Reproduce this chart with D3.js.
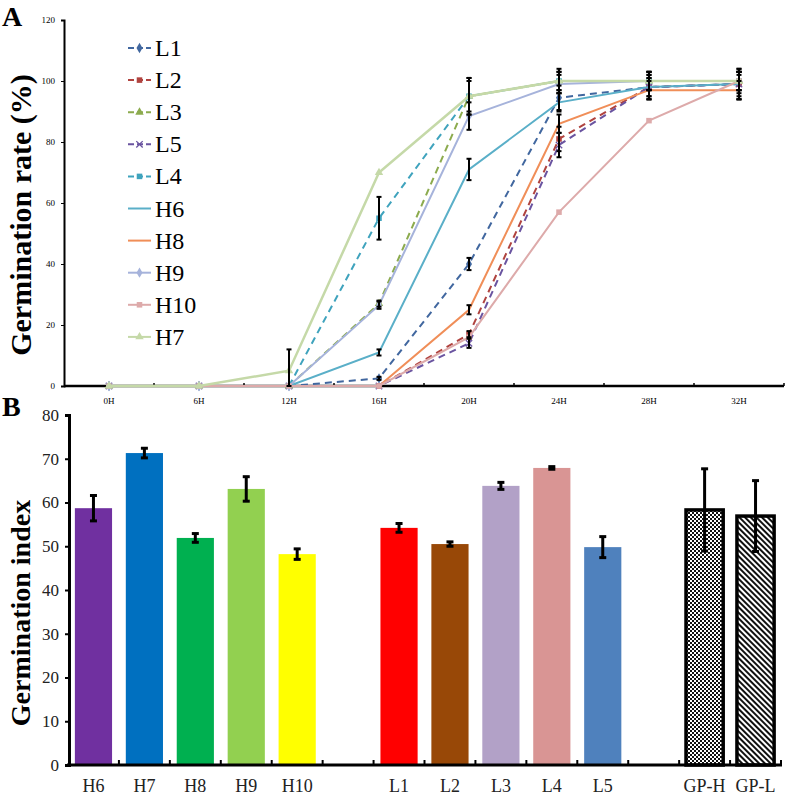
<!DOCTYPE html>
<html>
<head>
<meta charset="utf-8">
<script src="https://cdn.jsdelivr.net/npm/d3@7/dist/d3.min.js"></script>
<style>
  body { margin: 0; background: #fff; }
  svg { display: block; }
  svg text { font-family: "Liberation Serif", "Times New Roman", serif; }
</style>
</head>
<body>
<svg id="chart" width="787" height="796"></svg>
<script>
// ---- panel A data: germination rate (%) over time ----
const hours = ["0H", "6H", "12H", "16H", "20H", "24H", "28H", "32H"];
const rateNames = ["L1", "L2", "L3", "L5", "L4", "H6", "H8", "H9", "H10", "H7"];
const rateColors = ["#41679F", "#B0433F", "#8CAB4E", "#6A54A0", "#3FA3BD", "#5AAFC8", "#F08E58", "#A6B3DB", "#DDAAAA", "#C5D9A8"];
const rateDashed = [true, true, true, true, true, false, false, false, false, false];
const rateMarkers = ["diamond", "square", "triangle", "cross", "square", "none", "none", "diamond", "square", "triangle"];
const rateValues = [
  [0, 0, 0, 2.5, 40, 94.5, 98, 99],
  [0, 0, 0, 0, 17, 81, 98, 99],
  [0, 0, 0, 27, 95, 100, 100, 100],
  [0, 0, 0, 0, 14, 79, 98, 99],
  [0, 0, 0, 55, 95, 100, 100, 100],
  [0, 0, 0, 11, 71, 93, 98, 99],
  [0, 0, 0, 0, 25, 86, 97, 97],
  [0, 0, 0, 26.5, 88.5, 99, 100, 100],
  [0, 0, 0, 0, 16, 57, 87, 100],
  [0, 0, 5, 70, 95, 100, 100, 100]
];
const rateErrors = [
  [0, 0, 0, 0.5, 2, 4, 4, 5],
  [0, 0, 0, 0, 1, 4, 3, 4],
  [0, 0, 0, 1, 6, 3, 3, 3],
  [0, 0, 0, 0, 1.5, 4, 4, 5],
  [0, 0, 0, 7, 6, 4, 3, 3],
  [0, 0, 0, 1, 3.5, 3, 3, 3],
  [0, 0, 0, 0, 1.5, 3, 3, 3],
  [0, 0, 0, 1.2, 4.5, 3, 3, 3],
  [0, 0, 0, 0, 0, 0, 0, 0],
  [0, 0, 7, 0, 5, 3, 3, 3]
];
const rateTicks = [0, 20, 40, 60, 80, 100, 120];

// ---- panel B data: germination index ----
const groups = ["H6", "H7", "H8", "H9", "H10", "", "L1", "L2", "L3", "L4", "L5", " ", "GP-H", "GP-L"];
const indexValues = [58.7, 71.3, 51.9, 63.1, 48.2, null, 54.2, 50.5, 63.8, 67.9, 49.8, null, 58.3, 56.9];
const indexErrors = [2.9, 1.1, 1.0, 2.8, 1.2, null, 1.0, 0.5, 0.8, 0.3, 2.4, null, 9.4, 8.1];
const indexColors = ["#7030A0", "#0070C0", "#00B050", "#92D050", "#FFFF00", null, "#FF0000", "#984807", "#B2A1C7", "#D99594", "#4F81BD", null, "url(#checker)", "url(#hatch)"];
const indexTicks = [0, 10, 20, 30, 40, 50, 60, 70, 80];

const svg = d3.select("#chart");

// patterns for the pooled bars
const defs = svg.append("defs");
const checker = defs.append("pattern").attr("id", "checker")
  .attr("width", 4).attr("height", 4).attr("patternUnits", "userSpaceOnUse");
checker.append("rect").attr("width", 4).attr("height", 4).attr("fill", "#fff");
checker.append("rect").attr("width", 2).attr("height", 2).attr("fill", "#111");
checker.append("rect").attr("x", 2).attr("y", 2).attr("width", 2).attr("height", 2).attr("fill", "#111");
const hatch = defs.append("pattern").attr("id", "hatch")
  .attr("width", 4).attr("height", 4).attr("patternUnits", "userSpaceOnUse")
  .attr("patternTransform", "rotate(-45)");
hatch.append("rect").attr("width", 4).attr("height", 4).attr("fill", "#fff");
hatch.append("rect").attr("width", 2).attr("height", 4).attr("fill", "#111");

/////////////////////////////// panel A ///////////////////////////////
const xA = d3.scaleBand().domain(hours).range([64, 784]);
const yA = d3.scaleLinear().domain([0, 120]).range([386, 20]);

svg.append("text").attr("x", 2).attr("y", 26)
  .style("font-size", "28px").style("font-weight", "bold").text("A");

svg.append("text")
  .attr("transform", "translate(31,215) rotate(-90)")
  .attr("text-anchor", "middle")
  .style("font-size", "30px").style("font-weight", "bold")
  .text("Germination rate (%)");

const yAxisA = svg.append("g").attr("transform", "translate(64,0)")
  .call(d3.axisLeft(yA).tickValues(rateTicks).tickSize(3).tickPadding(6));
yAxisA.select(".domain").attr("stroke-width", 2);
yAxisA.selectAll("text").style("font-size", "9px").style("font-family", "Liberation Serif");

const xAxisA = svg.append("g").attr("transform", "translate(0,386)");
xAxisA.append("line").attr("x1", 64).attr("x2", 784).attr("stroke", "#000").attr("stroke-width", 2.5);
xAxisA.selectAll("line.tick").data(hours).enter().append("line")
  .attr("x1", d => xA(d) + xA.bandwidth()).attr("x2", d => xA(d) + xA.bandwidth())
  .attr("y1", 0).attr("y2", -3).attr("stroke", "#000").attr("stroke-width", 1.5);
xAxisA.selectAll("text").data(hours).enter().append("text")
  .attr("x", d => xA(d) + xA.bandwidth() / 2).attr("y", 18)
  .attr("text-anchor", "middle").style("font-size", "9px").text(d => d);

const cx = d => xA(d) + xA.bandwidth() / 2;
const line = d3.line().x((d, i) => cx(hours[i])).y(d => yA(d));

function drawMarker(g, shape, x, y, color, s) {
  if (shape === "none") return;
  if (shape === "cross") {
    g.append("path").attr("d", `M${x - s},${y - s}L${x + s},${y + s}M${x - s},${y + s}L${x + s},${y - s}`)
      .attr("stroke", color).attr("stroke-width", 1.3).attr("fill", "none");
    return;
  }
  const sym = { diamond: d3.symbolDiamond, square: d3.symbolSquare, triangle: d3.symbolTriangle }[shape];
  g.append("path").attr("d", d3.symbol().type(sym).size(s * s * 3)())
    .attr("transform", `translate(${x},${y})`).attr("fill", color);
}

const linesG = svg.append("g");
rateNames.forEach((name, k) => {
  linesG.append("path").datum(rateValues[k])
    .attr("d", line).attr("fill", "none")
    .attr("stroke", rateColors[k]).attr("stroke-width", name === "H7" ? 2.5 : 2)
    .attr("stroke-dasharray", rateDashed[k] ? "7,5" : null);
  rateValues[k].forEach((v, i) => drawMarker(linesG, rateMarkers[k], cx(hours[i]), yA(v), rateColors[k], 3.2));
});

// error bars
const errG = svg.append("g").attr("stroke", "#000").attr("stroke-width", 2);
rateNames.forEach((name, k) => {
  rateValues[k].forEach((v, i) => {
    const e = rateErrors[k][i];
    if (!e) return;
    const x = cx(hours[i]);
    errG.append("line").attr("x1", x).attr("x2", x).attr("y1", yA(v + e)).attr("y2", yA(Math.max(0, v - e)));
    errG.append("line").attr("x1", x - 2.5).attr("x2", x + 2.5).attr("y1", yA(v + e)).attr("y2", yA(v + e));
    errG.append("line").attr("x1", x - 2.5).attr("x2", x + 2.5).attr("y1", yA(Math.max(0, v - e))).attr("y2", yA(Math.max(0, v - e)));
  });
});

// legend
const legend = svg.append("g");
rateNames.forEach((name, k) => {
  const y = 48 + k * 32.1;
  legend.append("line").attr("x1", 128).attr("x2", 151).attr("y1", y).attr("y2", y)
    .attr("stroke", rateColors[k]).attr("stroke-width", 2)
    .attr("stroke-dasharray", rateDashed[k] ? "6,3" : null);
  drawMarker(legend, rateMarkers[k], 139.5, y, rateColors[k], 3.2);
  legend.append("text").attr("x", 155).attr("y", y + 8)
    .style("font-family", "'Liberation Serif', serif")
    .style("font-size", "24px").text(name);
});

/////////////////////////////// panel B ///////////////////////////////
const xB = d3.scaleBand().domain(groups).range([68, 781]).paddingInner(0.27).paddingOuter(0.135);
const bandStep = xB.step();
const yB = d3.scaleLinear().domain([0, 80]).range([765, 415]);

svg.append("text").attr("x", 2).attr("y", 416)
  .style("font-size", "28px").style("font-weight", "bold").text("B");

svg.append("text")
  .attr("transform", "translate(30,613) rotate(-90)")
  .attr("text-anchor", "middle")
  .style("font-size", "28px").style("font-weight", "bold")
  .text("Germination index");

const yAxisB = svg.append("g").attr("transform", "translate(69,0)")
  .call(d3.axisLeft(yB).tickValues(indexTicks).tickSize(4).tickPadding(6));
yAxisB.select(".domain").attr("stroke-width", 3);
yAxisB.selectAll(".tick line").attr("stroke-width", 2);
yAxisB.selectAll("text").style("font-size", "17px").style("font-family", "Liberation Serif").attr("fill", "#222");

const barsG = svg.append("g");
groups.forEach((g, i) => {
  const v = indexValues[i];
  if (v === null) return;
  const pooled = g.startsWith("GP");
  barsG.append("rect")
    .attr("x", xB(g)).attr("y", yB(v))
    .attr("width", xB.bandwidth()).attr("height", yB(0) - yB(v))
    .attr("fill", indexColors[i])
    .attr("stroke", pooled ? "#000" : "none").attr("stroke-width", pooled ? 3.5 : 0);
});

const xAxisB = svg.append("g").attr("transform", "translate(0,765)");
xAxisB.append("line").attr("x1", 67).attr("x2", 782).attr("stroke", "#000").attr("stroke-width", 3);
xAxisB.selectAll("line.tick").data(groups).enter().append("line")
  .attr("x1", (d, i) => 68 + (i + 1) * bandStep).attr("x2", (d, i) => 68 + (i + 1) * bandStep)
  .attr("y1", 0).attr("y2", -5).attr("stroke", "#000").attr("stroke-width", 2);
xAxisB.selectAll("text").data(groups).enter().append("text")
  .attr("x", d => xB(d) + xB.bandwidth() / 2).attr("y", 27)
  .attr("text-anchor", "middle").style("font-size", "18px").attr("fill", "#222").text(d => d.trim());

const errB = svg.append("g").attr("stroke", "#000").attr("stroke-width", 3);
groups.forEach((g, i) => {
  const v = indexValues[i];
  if (v === null) return;
  const e = indexErrors[i];
  const x = xB(g) + xB.bandwidth() / 2;
  errB.append("line").attr("x1", x).attr("x2", x).attr("y1", yB(v + e)).attr("y2", yB(v - e));
  errB.append("line").attr("x1", x - 3.5).attr("x2", x + 3.5).attr("y1", yB(v + e)).attr("y2", yB(v + e));
  errB.append("line").attr("x1", x - 3.5).attr("x2", x + 3.5).attr("y1", yB(v - e)).attr("y2", yB(v - e));
});
</script>
</body>
</html>
